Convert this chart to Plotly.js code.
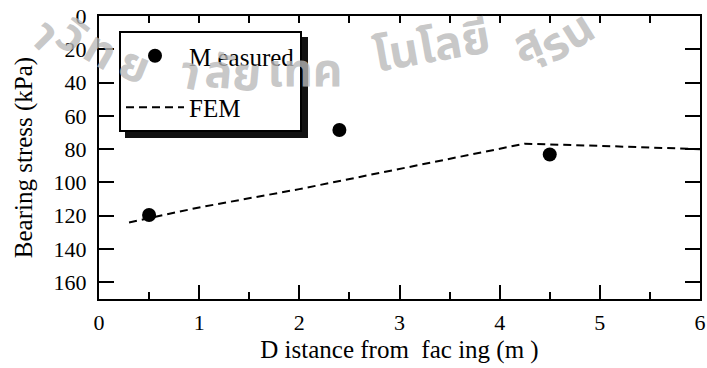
<!DOCTYPE html>
<html>
<head>
<meta charset="utf-8">
<script src="https://cdn.plot.ly/plotly-3.0.1.min.js"></script>
<style>
  html, body { margin: 0; padding: 0; background: #fff; }
  #wrap { position: relative; width: 707px; height: 368px; overflow: hidden; }
  #chart { width: 707px; height: 368px; }
  /* serif face for axis labels and titles */
  #chart .xtick text, #chart .ytick text,
  #chart .g-xtitle text, #chart .g-ytitle text,
  #chart .legendtext {
    font-family: "Liberation Serif", "Times New Roman", serif !important;
  }
  /* drop shadow under the legend box */
  #chart .legend .bg { filter: drop-shadow(6px 6px 0 #111); }
  /* watermark laid along an arc */
  #wm { position: absolute; left: 0; top: 0; width: 707px; height: 368px; pointer-events: none; }
  #wm span {
    position: absolute; transform-origin: center center; white-space: nowrap;
    font-family: "Noto Sans Thai", "Noto Sans", sans-serif; font-weight: 700; font-size: 46px;
    color: rgba(185,185,185,0.8); line-height: 1;
  }
</style>
</head>
<body>
<div id="wrap">
  <div id="chart"></div>
  <div id="wm"></div>
</div>
<script>
// Measured bearing stress below the wall
const measuredDistance = [0.5, 2.4, 4.5];
const measuredStress = [119.5, 68.5, 83.2];

// FEM bearing stress profile
const femDistance = [0.3, 1.0, 2.0, 3.0, 3.9, 4.25, 5.0, 6.0];
const femStress = [124, 115, 104, 92, 81, 76.7, 78, 80];

// Axis ticks
const stressTicks = [0, 20, 40, 60, 80, 100, 120, 140, 160];
const distanceTicks = [0, 1, 2, 3, 4, 5, 6];

const serif = '"Liberation Serif", "Times New Roman", serif';
const axisSerif = 'Liberation Serif';

const traces = [
  {
    x: measuredDistance, y: measuredStress,
    type: 'scatter', mode: 'markers', name: 'M easured',
    legendgroup: 'a',
    marker: { color: '#000', size: 14 }
  },
  {
    x: femDistance, y: femStress,
    type: 'scatter', mode: 'lines', name: 'FEM',
    legendgroup: 'b',
    line: { color: '#000', width: 2, dash: '8px,5px' }
  },
  // invisible carrier for the top axis ticks
  {
    x: [0, 6], y: [0, 0], xaxis: 'x2', yaxis: 'y',
    type: 'scatter', mode: 'none', showlegend: false, hoverinfo: 'skip'
  }
];

// plot area in pixels: x 99..700, y 16..299
const L = 99, R = 700, T = 16, B = 299;
const px = v => (v - L) / (R - L);
const py = v => (B - v) / (B - T);

// watermark pieces: text, centre in page pixels, rotation
const wmParts = [
  { t: 'า', x: 44, y: 36, a: 45 },
  { t: 'วิ', x: 71, y: 38, a: 38 },
  { t: 'ท', x: 100, y: 52, a: 30 },
  { t: 'ย', x: 134, y: 67, a: 22 },
  { t: 'า', x: 190, y: 75, a: 12 },
  { t: 'ลัย', x: 233, y: 75, a: 5 },
  { t: 'เทค', x: 305, y: 72, a: 0 },
  { t: 'โนโลยี', x: 432, y: 48, a: -10 },
  { t: 'สุ', x: 528, y: 45, a: -22 },
  { t: 'รน', x: 568, y: 38, a: -32 }
];
const wm = document.getElementById('wm');
wmParts.forEach(p => {
  const s = document.createElement('span');
  s.textContent = p.t;
  s.style.left = p.x + 'px';
  s.style.top = p.y + 'px';
  s.style.transform = 'translate(-50%, -50%) rotate(' + p.a + 'deg)';
  wm.appendChild(s);
});

const layout = {
  width: 707, height: 368,
  margin: { l: L, r: 707 - R, t: T, b: 368 - B },
  paper_bgcolor: '#fff', plot_bgcolor: '#fff',
  showlegend: true,
  font: { family: serif, size: 22, color: '#000' },
  xaxis: {
    range: [0, 6], tickvals: distanceTicks,
    ticks: 'inside', ticklen: 14, tickwidth: 2, tickcolor: '#000',
    minor: { dtick: 0.5, ticks: 'inside', ticklen: 7, tickwidth: 2, tickcolor: '#000' },
    showline: true, linewidth: 2, linecolor: '#000', mirror: true,
    showgrid: false, zeroline: false,
    tickfont: { family: axisSerif, size: 22, color: '#000' },
    ticklabelstandoff: 3,
    title: { text: 'D istance from\u00a0 fac ing (m )', font: { family: axisSerif, size: 25, color: '#000' }, standoff: 6 }
  },
  xaxis2: {
    overlaying: 'x', side: 'top', matches: 'x', range: [0, 6],
    dtick: 0.5, tick0: 0, ticks: 'inside', ticklen: 7, tickwidth: 2, tickcolor: '#000',
    showticklabels: false, showgrid: false, zeroline: false, showline: false
  },
  yaxis: {
    range: [170, 0], tickvals: stressTicks,
    ticks: 'inside', ticklen: 15, tickwidth: 2, tickcolor: '#000',
    showline: true, linewidth: 2, linecolor: '#000', mirror: 'ticks',
    showgrid: false, zeroline: false,
    tickfont: { family: axisSerif, size: 22, color: '#000' },
    ticklabelstandoff: 6,
    title: { text: 'Bearing stress (kPa)', font: { family: axisSerif, size: 25, color: '#000' }, standoff: 14 }
  },
  legend: {
    x: px(119), y: py(31), xanchor: 'left', yanchor: 'top',
    bgcolor: '#fff', bordercolor: '#000', borderwidth: 2,
    font: { family: serif, size: 25, color: '#000' },
    traceorder: 'grouped', tracegroupgap: 16, itemwidth: 58
  }
};

Plotly.newPlot('chart', traces, layout, { displayModeBar: false, staticPlot: true });
</script>
</body>
</html>
